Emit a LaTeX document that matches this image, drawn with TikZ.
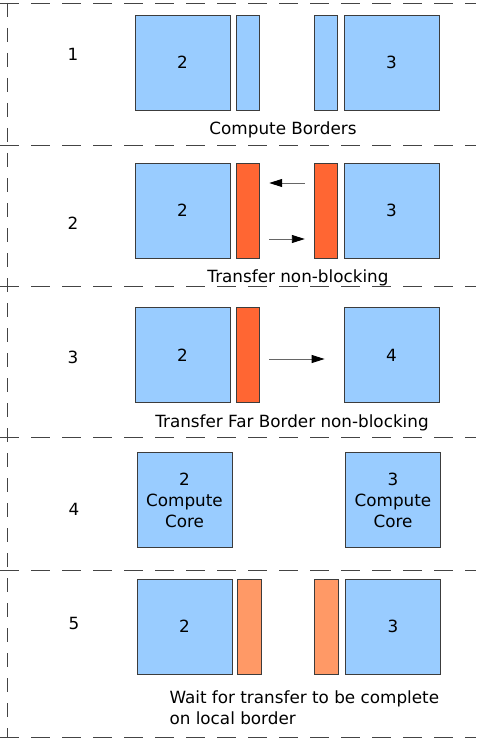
\documentclass[tikz,border=0pt]{standalone}
\usepackage{fontspec}
\setmainfont{DejaVu Sans}
\usetikzlibrary{arrows.meta,positioning}
\definecolor{cellblue}{HTML}{99CCFF}
\definecolor{haloorange}{HTML}{FF6633}
\definecolor{halolight}{HTML}{FF9966}
\definecolor{edgegray}{HTML}{3C3C3C}
\definecolor{sepgray}{HTML}{444444}

\begin{document}
\begin{tikzpicture}[x=1pt, y=-1pt,
  every node/.style={font=\fontsize{16.8}{21}\selectfont},
  block/.style={draw=edgegray, fill=cellblue, line width=0.8pt, inner sep=0pt,
                minimum width=95pt, minimum height=95pt, align=center},
  border/.style={draw=edgegray, line width=0.8pt, inner sep=0pt,
                 minimum width=23pt, minimum height=95pt},
  sep/.style={draw=sepgray, line width=0.8pt, dash pattern=on 19pt off 12pt},
  arr/.style={-{Triangle[length=13pt, width=8pt, black]}, draw=black!60, line width=0.9pt},
  caption/.style={anchor=base},
  node distance=6pt
]
\useasboundingbox (0,0) rectangle (476,738);

% frame of the five steps
\foreach \yy in {3,145,286,437,570,737}
  \draw[sep] (0,\yy) -- (476,\yy);
\draw[sep, dash pattern=on 14pt off 11pt] (7,3) -- (7,737);

% step 1: compute borders
\node at (73,54) (s1) {1};
\node[block] at (182.5,62.5) (a1) {2};
\node[border, fill=cellblue, right=of a1] (ab1) {};
\node[block] at (391.5,62.5) (b1) {3};
\node[border, fill=cellblue, left=of b1] (bb1) {};
\node[caption] at (283,135) (c1) {Compute Borders};

% step 2: transfer non-blocking
\node at (73,223) (s2) {2};
\node[block] at (182.5,210.5) (a2) {2};
\node[border, fill=haloorange, right=of a2] (ab2) {};
\node[block] at (391.5,210.5) (b2) {3};
\node[border, fill=haloorange, left=of b2] (bb2) {};
\draw[arr, shorten <=9pt, shorten >=9pt] ([yshift=27.5pt]bb2.west) -- ([yshift=27.5pt]ab2.east);
\draw[arr, shorten <=9pt, shorten >=9pt] ([yshift=-28.5pt]ab2.east) -- ([yshift=-28.5pt]bb2.west);
\node[caption] at (298,282) (c2) {Transfer non-blocking};

% step 3: far border
\node at (73,357) (s3) {3};
\node[block] at (182.5,355) (a3) {2};
\node[border, fill=haloorange, right=of a3] (ab3) {};
\node[block] at (391.5,355) (b3) {4};
\draw[arr, shorten <=9pt, shorten >=19pt] ([yshift=-4pt]ab3.east) -- ([yshift=-4pt]b3.west);
\node[caption] at (292,427) (c3) {Transfer Far Border non-blocking};

% step 4: compute core
\node at (74,509) (s4) {4};
\node[block] at (184.5,500) (a4) {2\\Compute\\Core};
\node[block] at (393,500) (b4) {3\\Compute\\Core};

% step 5: wait
\node at (74,623) (s5) {5};
\node[block] at (184.5,626.5) (a5) {2};
\node[border, fill=halolight, minimum width=24pt, right=5pt of a5] (ab5) {};
\node[block] at (393,626.5) (b5) {3};
\node[border, fill=halolight, minimum width=24pt, left=6pt of b5] (bb5) {};
\node[anchor=base west, align=left] at (166,724) (c5) {Wait for transfer to be complete\\on local border};
\end{tikzpicture}
\end{document}
